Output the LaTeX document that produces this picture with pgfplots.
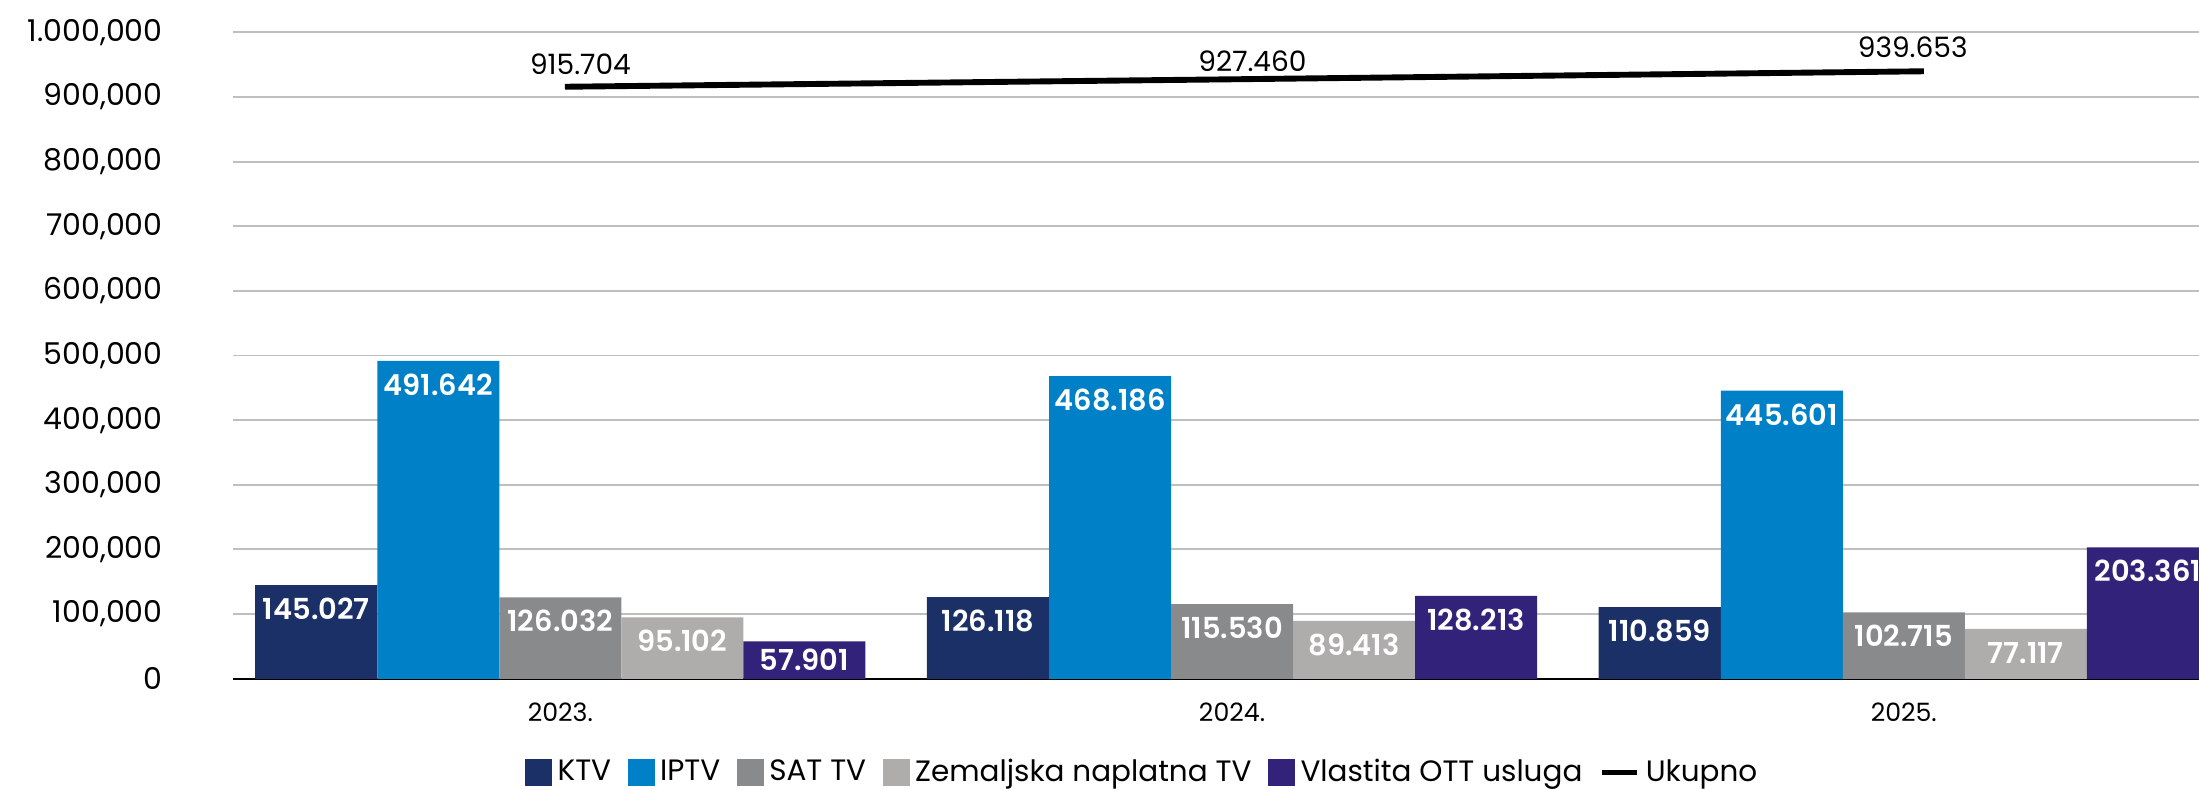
\documentclass[border=0pt]{standalone}
\usepackage{fontspec}
\setmainfont{Poppins}
\newfontfamily\semib{Poppins}[UprightFont=* SemiBold]
\usepackage{pgfplots}
\pgfplotsset{compat=1.18}
\usepackage{pgfplotstable}

\definecolor{ktv}{HTML}{1A3067}
\definecolor{iptv}{HTML}{0080C6}
\definecolor{sat}{HTML}{898A8C}
\definecolor{zem}{HTML}{AEADAB}
\definecolor{ott}{HTML}{33227A}

\pgfplotstableread{
x y label dy
0 145027 145.027 -8.5
1 126118 126.118 -8.5
2 110859 110.859 -8.5
}\ktvtab
\pgfplotstableread{
x y label dy
0 491642 491.642 -8.5
1 468186 468.186 -8.5
2 445601 445.601 -8.5
}\iptvtab
\pgfplotstableread{
x y label dy
0 126032 126.032 -8.5
1 115530 115.530 -8.5
2 102715 102.715 -8.5
}\sattab
\pgfplotstableread{
x y label dy
0 95102 95.102 -8.5
1 89413 89.413 -8.5
2 77117 77.117 -8.5
}\zemtab
\pgfplotstableread{
x y label dy
0 57901 57.901 -6.5
1 128213 128.213 -8.5
2 203361 203.361 -8.5
}\otttab
\pgfplotstableread{
x y label dx dy
0.007 915704 915.704 5.5 8.2
1.019 927460 927.460 2.75 6.5
2.03 939653 939.653 -4 8.4
}\tottab

\pgfplotsset{
  barleg/.style={legend image code/.code={\fill[##1] (0bp,-4.75bp) rectangle (9.5bp,4.75bp);}},
  lineleg/.style={legend image code/.code={\draw[##1] (0bp,0bp) -- (12.5bp,0bp);}},
  barlabels/.style={
    ybar, bar width=43.5bp, bar shift=#1, draw=none,
    nodes near coords,
    point meta=explicit symbolic,
    visualization depends on={\thisrow{dy}\as\labdy},
    every node near coord/.append style={anchor=center, text=white,
      font=\semib\fontsize{10.3bp}{12bp}\selectfont, xshift=#1, yshift=\labdy bp},
  },
}

\begin{document}
\begin{tikzpicture}
\path[use as bounding box] (-83bp,-39.5bp) rectangle (701bp,242bp);
\begin{axis}[
  at={(0,0)}, anchor=south west,
  scale only axis, width=701bp, height=230.5bp,
  xmin=-0.4875, xmax=2.4395, ymin=0, ymax=1000000,
  xtick={0,1,2}, xticklabels={2023.,2024.,2025.},
  ytick={0,100000,200000,300000,400000,500000,600000,700000,800000,900000,1000000},
  yticklabels={0,{100,000},{200,000},{300,000},{400,000},{500,000},{600,000},{700,000},{800,000},{900,000},{1.000,000}},
  scaled y ticks=false,
  ymajorgrids, grid style={color=black!25, line width=0.7bp},
  axis x line*=bottom, axis y line*=left,
  y axis line style={draw=none},
  x axis line style={black, line width=0.7bp, -},
  major tick length=0pt,
  xticklabel style={font=\fontsize{9bp}{11bp}\selectfont, yshift=-5bp},
  yticklabel style={font=\fontsize{10.7bp}{12bp}\selectfont, xshift=-21.5bp},
  legend style={at={(axis description cs:0.4635,-0.145)}, anchor=center,
    draw=none, fill=none, inner sep=0pt, legend columns=-1,
    font=\fontsize{10.5bp}{12bp}\selectfont,
    /tikz/every even column/.append style={column sep=4bp}},
]
\addplot[fill=ktv, barleg, barlabels=-87bp]
  table[x=x, y=y, meta=label]{\ktvtab};
\addlegendentry{KTV}
\addplot[fill=iptv, barleg, barlabels=-43.5bp]
  table[x=x, y=y, meta=label]{\iptvtab};
\addlegendentry{IPTV}
\addplot[fill=sat, barleg, barlabels=0bp]
  table[x=x, y=y, meta=label]{\sattab};
\addlegendentry{SAT TV}
\addplot[fill=zem, barleg, barlabels=43.5bp]
  table[x=x, y=y, meta=label]{\zemtab};
\addlegendentry{Zemaljska naplatna TV}
\addplot[fill=ott, barleg, barlabels=87bp]
  table[x=x, y=y, meta=label]{\otttab};
\addlegendentry{Vlastita OTT usluga}
\addplot[black, line width=2.1bp, mark=none, lineleg,
  nodes near coords, point meta=explicit symbolic,
  visualization depends on={\thisrow{dx}\as\labdx},
  visualization depends on={\thisrow{dy}\as\labdy},
  every node near coord/.append style={anchor=center, text=black,
    font=\fontsize{10bp}{12bp}\selectfont, xshift=\labdx bp, yshift=\labdy bp}]
  table[x=x, y=y, meta=label]{\tottab};
\addlegendentry{Ukupno}
\end{axis}
\end{tikzpicture}
\end{document}
